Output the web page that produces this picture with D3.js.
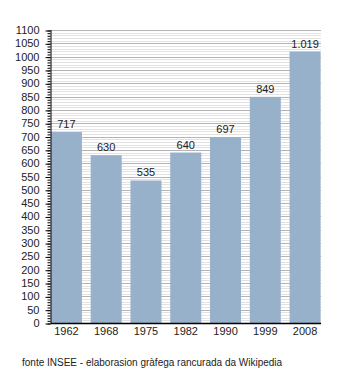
<!DOCTYPE html>
<html><head><meta charset="utf-8">
<script src="https://cdn.jsdelivr.net/npm/d3@7"></script>
<style>body{margin:0;background:#fff;} text{font-family:"Liberation Sans",Arial,sans-serif;}</style>
</head><body>
<svg id="c" width="350" height="373"></svg>
<script>
const years = ["1962","1968","1975","1982","1990","1999","2008"];
const population = [717,630,535,640,697,849,1019];
const valueLabels = ["717","630","535","640","697","849","1.019"];
const yMax = 1100;
const source = "fonte INSEE - elaborasion gràfega rancurada da Wikipedia";

const svg = d3.select("#c");
const L = 50.5, R = 321, T = 30, B = 323;
const x = d3.scaleBand().domain(years).range([L, R]).paddingInner(0.22).paddingOuter(0.01);
const y = d3.scaleLinear().domain([0, yMax]).range([B, T]);

// minor gridlines
svg.append("g").selectAll("line").data(d3.range(0, yMax + 1, 10).filter(v => v % 50 !== 0))
  .join("line").attr("x1", L).attr("x2", R).attr("y1", d => Math.round(y(d)) + 0.5).attr("y2", d => Math.round(y(d)) + 0.5)
  .attr("stroke", "#e2e2e2").attr("stroke-width", 1);
// major gridlines
svg.append("g").selectAll("line").data(d3.range(50, yMax + 1, 50))
  .join("line").attr("x1", L).attr("x2", R).attr("y1", d => Math.round(y(d)) + 0.5).attr("y2", d => Math.round(y(d)) + 0.5)
  .attr("stroke", "#b4b4b4").attr("stroke-width", 1);

// bars
svg.append("g").selectAll("rect").data(years)
  .join("rect").attr("x", d => x(d)).attr("width", x.bandwidth())
  .attr("y", (d, i) => y(population[i])).attr("height", (d, i) => B - y(population[i]))
  .attr("fill", "#98b1cb");

// value labels
svg.append("g").selectAll("text").data(years)
  .join("text").attr("x", d => x(d) + x.bandwidth() / 2).attr("y", (d, i) => y(population[i]) - 4)
  .attr("text-anchor", "middle").attr("font-size", 11).attr("fill", "#222")
  .text((d, i) => valueLabels[i]);

// y axis: minor ticks
const yMinor = d3.axisLeft(y).tickValues(d3.range(0, yMax + 1, 10)).tickSize(3).tickFormat("");
svg.append("g").attr("transform", `translate(${L},0)`).call(yMinor)
  .call(g => g.select(".domain").remove())
  .call(g => g.selectAll("line").attr("stroke", "#000").attr("transform", "translate(0,0.5)"));
const yAxis = d3.axisLeft(y).tickValues(d3.range(0, yMax + 1, 50)).tickSize(5).tickPadding(6).tickFormat(d3.format("d"));
svg.append("g").attr("transform", `translate(${L},0)`).call(yAxis)
  .call(g => g.select(".domain").attr("stroke", "#000").attr("d", `M0.5,${T}V${B + 0.5}`))
  .call(g => g.selectAll("line").attr("stroke", "#000").attr("transform", "translate(0,0.5)"))
  .call(g => g.selectAll("text").attr("font-size", 11).attr("fill", "#222").attr("font-family", "Liberation Sans, Arial, sans-serif"));

// x axis
const xAxis = d3.axisBottom(x).tickSize(0).tickPadding(4);
svg.append("g").attr("transform", `translate(0,${B})`).call(xAxis)
  .call(g => g.select(".domain").attr("stroke", "#000").attr("stroke-width", 1.5).attr("d", `M${L},0.5H${R}`))
  .call(g => g.selectAll("text").attr("font-size", 11).attr("fill", "#222").attr("font-family", "Liberation Sans, Arial, sans-serif"));

// source
svg.append("text").attr("x", 22).attr("y", 366).attr("font-size", 10).attr("fill", "#222").text(source);
</script>
</body></html>
